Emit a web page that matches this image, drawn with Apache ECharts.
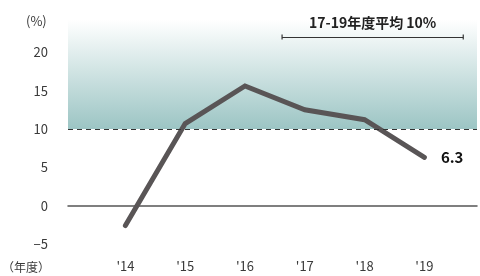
<!DOCTYPE html>
<html>
<head>
<meta charset="utf-8">
<script src="https://cdn.jsdelivr.net/npm/echarts@6/dist/echarts.min.js"></script>
<style>
  html, body { margin: 0; padding: 0; background: #fff; }
  #chart { width: 480px; height: 276px; }
</style>
</head>
<body>
<div id="chart"></div>
<script>
  // 年度 ('14 - '19) と 成長率 (%)
  var years = [14, 15, 16, 17, 18, 19]
  var rates = [-2.6, 10.7, 15.6, 12.5, 11.2, 6.3]
  var yTicks = [-5, 0, 5, 10, 15, 20]
  var avgLabel = '17-19年度平均 10%'
  var avgValue = 10

  var font = '"Noto Sans CJK JP", "Lato", sans-serif'
  var chart = echarts.init(document.getElementById('chart'), null, { renderer: 'canvas' })

  var option = {
    animation: false,
    backgroundColor: '#fff',
    textStyle: { fontFamily: font },
    grid: { left: 68, right: 0, top: 20, bottom: 32 },
    xAxis: {
      type: 'value',
      min: 13.04,
      max: 19.88,
      splitNumber: 7,
      axisLine: { onZero: true, lineStyle: { color: '#555', width: 1.5 } },
      axisTick: { show: false },
      splitLine: { show: false },
      axisLabel: {
        margin: 16,
        fontSize: 13,
        color: '#3a3a3a',
        formatter: function(v) {
          var r = Math.round(v)
          if (Math.abs(v - r) > 1e-6 || years.indexOf(r) < 0) return ''
          return '\'' + r
        }
      }
    },
    yAxis: {
      type: 'value',
      min: -5,
      max: 24.2,
      interval: 5,
      axisLine: { show: false },
      axisTick: { show: false },
      splitLine: { show: false },
      axisLabel: {
        margin: 20,
        fontSize: 13,
        color: '#3a3a3a',
        padding: [6, 0, 0, 0],
        formatter: function(v) {
          if (yTicks.indexOf(v) < 0) return ''
          return v < 0 ? '\u2212' + Math.abs(v) : String(v)
        }
      }
    },
    graphic: [
      { type: 'text', left: 26, top: 15, style: { text: '(%)', font: '13px ' + font, fill: '#3a3a3a' } },
      { type: 'text', left: 2, top: 261, style: { text: '（年度）', font: '12px ' + font, fill: '#3a3a3a' } }
    ],
    series: [{
      type: 'line',
      data: years.map(function(y, i) { return [y, rates[i]] }),
      symbol: 'circle',
      symbolSize: 1,
      itemStyle: { color: '#595556' },
      lineStyle: { color: '#595556', width: 5, cap: 'round', join: 'miter' },
      label: {
        show: true,
        position: 'right',
        distance: 16,
        fontSize: 15,
        fontWeight: 'bold',
        color: '#111',
        formatter: function(p) {
          return p.dataIndex === rates.length - 1 ? p.value[1].toFixed(1) : ''
        }
      },
      markArea: {
        silent: true,
        itemStyle: {
          color: new echarts.graphic.LinearGradient(0, 0, 0, 1, [
            { offset: 0, color: '#ffffff' },
            { offset: 1, color: '#9cc5c4' }
          ])
        },
        data: [[{ yAxis: avgValue }, { yAxis: 24.2 }]]
      },
      markLine: {
        silent: true,
        symbol: 'none',
        label: { show: false },
        data: [
          { yAxis: avgValue, lineStyle: { color: '#333', width: 1, type: [5, 4] } },
          [
            {
              coord: [16.62, 22.0],
              symbol: 'rect',
              symbolSize: [5, 1.2],
              lineStyle: { color: '#333', width: 1.2, type: 'solid' },
              label: {
                show: true,
                position: 'middle',
                distance: 7,
                formatter: avgLabel,
                fontSize: 14,
                fontWeight: 'bold',
                color: '#222'
              }
            },
            { coord: [19.65, 22.0], symbol: 'rect', symbolSize: [5, 1.2] }
          ]
        ]
      }
    }]
  }

  chart.setOption(option)
</script>
</body>
</html>
